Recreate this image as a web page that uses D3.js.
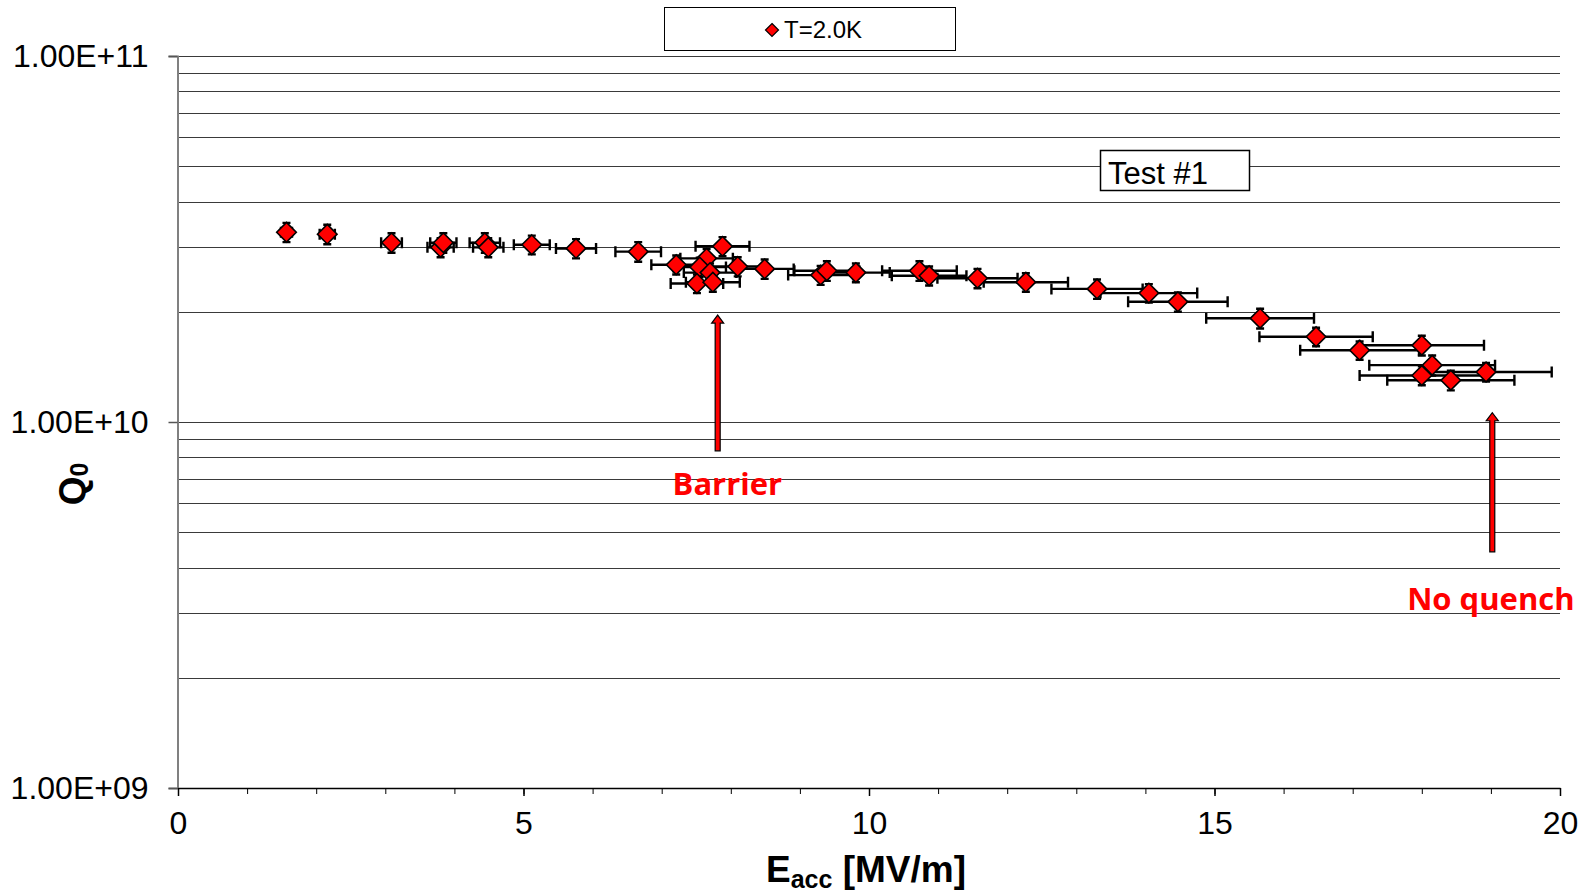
<!DOCTYPE html>
<html>
<head>
<meta charset="utf-8">
<script src="https://cdn.jsdelivr.net/npm/d3@7"></script>
<style>
  body { margin: 0; background: #fff; }
  svg { display: block; font-family: 'Liberation Sans', Arial, sans-serif; }
  .grid line { stroke: #3a3a3a; stroke-width: 1; }
  .tick text { font-size: 32px; fill: #000; }
  .err { stroke: #000; stroke-width: 2.4; fill: none; }
  .note { font-family: 'Open Sans', sans-serif; font-weight: bold; font-size: 31px; fill: #ff0000; }
</style>
</head>
<body>
<svg id="svg" width="1590" height="894"></svg>
<script>
// Eacc [MV/m]
const eacc = [1.57, 2.16, 3.09, 3.80, 3.84, 4.44, 4.49, 5.12, 5.76, 6.66,
  7.21, 7.65, 7.55, 7.70, 7.51, 7.74, 7.88, 8.10, 8.49,
  9.30, 9.39, 9.81, 10.73, 10.87, 11.57, 12.27, 13.30, 14.05, 14.47,
  15.66, 16.47, 17.10, 18.00, 18.15, 18.93, 18.00, 18.42]
// Q0
const q0 = [3.30e10, 3.26e10, 3.09e10, 3.00e10, 3.09e10, 3.09e10, 3.00e10, 3.05e10, 2.98e10, 2.92e10,
  2.69e10, 2.80e10, 2.65e10, 2.56e10, 2.39e10, 2.41e10, 3.02e10, 2.66e10, 2.62e10,
  2.52e10, 2.59e10, 2.56e10, 2.59e10, 2.51e10, 2.47e10, 2.41e10, 2.31e10, 2.25e10, 2.13e10,
  1.92e10, 1.71e10, 1.57e10, 1.62e10, 1.43e10, 1.37e10, 1.34e10, 1.30e10]
// +/- error on Eacc
const eaccErr = [0.08, 0.11, 0.15, 0.19, 0.19, 0.22, 0.22, 0.26, 0.29, 0.33,
  0.36, 0.38, 0.38, 0.38, 0.38, 0.39, 0.39, 0.40, 0.42,
  0.47, 0.47, 0.49, 0.54, 0.54, 0.58, 0.61, 0.66, 0.70, 0.72,
  0.78, 0.82, 0.86, 0.90, 0.91, 0.95, 0.90, 0.92]
// +/- error on Q0
const q0Err = [0.20e10, 0.20e10, 0.19e10, 0.18e10, 0.19e10, 0.19e10, 0.18e10, 0.18e10, 0.18e10, 0.18e10,
  0.16e10, 0.17e10, 0.16e10, 0.15e10, 0.14e10, 0.14e10, 0.18e10, 0.16e10, 0.16e10,
  0.15e10, 0.16e10, 0.15e10, 0.16e10, 0.15e10, 0.15e10, 0.14e10, 0.14e10, 0.13e10, 0.13e10,
  0.12e10, 0.10e10, 0.09e10, 0.10e10, 0.09e10, 0.08e10, 0.08e10, 0.08e10]

const xTicks = [0, 5, 10, 15, 20]
const yTicks = [1e9, 1e10, 1e11]
const seriesName = 'T=2.0K'

// annotations (arrow + red label)
const noteText = ['Barrier', 'No quench']
const noteE = [7.95, 19.0]
const noteQ = [6.3e9, 3.07e9]
const arrowE = [7.81, 19.02]
const arrowFrom = [8.34e9, 4.42e9]
const arrowTo = [1.96e10, 1.06e10]

const LEFT = 178
const RIGHT = 1560
const TOP = 56
const BOTTOM = 788
const HALF = 9.8

const svg = d3.select('svg')
const x = d3.scaleLinear().domain([0, 20]).range([LEFT, RIGHT])
const y = d3.scaleLog().domain([1e9, 1e11]).range([BOTTOM, TOP])

// horizontal grid, 1..9 per decade
svg.append('g').attr('class', 'grid')
  .selectAll('line')
  .data(y.ticks().filter(d => d > 1e9))
  .join('line')
  .attr('x1', LEFT).attr('x2', RIGHT)
  .attr('y1', d => Math.round(y(d)) + 0.5)
  .attr('y2', d => Math.round(y(d)) + 0.5)

function sci (d) {
  const [m, e] = d.toExponential(2).toUpperCase().split('E')
  const sign = e[0]
  const num = e.slice(1).padStart(2, '0')
  return m + 'E' + sign + num
}

const yAxis = svg.append('g')
  .attr('transform', 'translate(' + (LEFT - 0.5) + ',0)')
  .call(d3.axisLeft(y).tickValues(yTicks).tickFormat(sci).tickSize(9).tickPadding(20))
yAxis.select('.domain').attr('stroke', '#808080').attr('stroke-width', 2)
yAxis.selectAll('.tick line').attr('stroke', '#555').attr('stroke-width', 1.5)

// x axis: minor ticks every 1, labels every 5
const xMinor = svg.append('g')
  .attr('transform', 'translate(0,' + BOTTOM + ')')
  .call(d3.axisBottom(x).ticks(20).tickFormat('').tickSize(6).tickSizeOuter(0))
xMinor.select('.domain').attr('stroke', '#000').attr('stroke-width', 1.5)
const xMajor = svg.append('g')
  .attr('transform', 'translate(0,' + BOTTOM + ')')
  .call(d3.axisBottom(x).tickValues(xTicks).tickSize(8).tickPadding(15).tickSizeOuter(0))
xMajor.select('.domain').remove()
xMajor.selectAll('.tick line').attr('stroke-width', 1.5)

// axis titles
const xt = svg.append('text')
  .attr('x', 866).attr('y', 882)
  .attr('text-anchor', 'middle')
  .attr('font-weight', 'bold').attr('font-size', 37)
xt.append('tspan').text('E')
xt.append('tspan').attr('font-size', 25).attr('dy', 6).text('acc')
xt.append('tspan').attr('dy', -6).text(' [MV/m]')

const yt = svg.append('text')
  .attr('transform', 'translate(85,484) rotate(-90)')
  .attr('text-anchor', 'middle')
  .attr('font-weight', 'bold').attr('font-size', 37)
yt.append('tspan').text('Q')
yt.append('tspan').attr('font-size', 25).attr('dy', 3).text('0')

const pts = eacc.map((e, i) => ({ e, q: q0[i], ex: eaccErr[i], qx: q0Err[i] }))

// error bars
const eb = svg.append('g').attr('class', 'err')
pts.forEach(p => {
  const cy = y(p.q)
  const x1 = x(p.e - p.ex)
  const x2 = x(p.e + p.ex)
  eb.append('path').attr('d',
    'M' + x1 + ',' + cy + 'H' + x2 +
    'M' + x1 + ',' + (cy - 5.5) + 'V' + (cy + 5.5) +
    'M' + x2 + ',' + (cy - 5.5) + 'V' + (cy + 5.5))
  const cx = x(p.e)
  const y1 = y(p.q + p.qx)
  const y2 = y(p.q - p.qx)
  eb.append('path').attr('d',
    'M' + cx + ',' + y1 + 'V' + y2 +
    'M' + (cx - 4) + ',' + y1 + 'H' + (cx + 4) +
    'M' + (cx - 4) + ',' + y2 + 'H' + (cx + 4))
})

function diamond (h) {
  return 'M0,' + (-h) + 'L' + h + ',0L0,' + h + 'L' + (-h) + ',0Z'
}

svg.append('g')
  .selectAll('path')
  .data(pts)
  .join('path')
  .attr('transform', d => 'translate(' + x(d.e) + ',' + y(d.q) + ')')
  .attr('d', diamond(HALF))
  .attr('fill', '#ff0000')
  .attr('stroke', '#000')
  .attr('stroke-width', 1.6)

// legend
svg.append('rect')
  .attr('x', 664.5).attr('y', 7.5).attr('width', 291).attr('height', 43)
  .attr('fill', '#fff').attr('stroke', '#000').attr('stroke-width', 1)
svg.append('path')
  .attr('transform', 'translate(772,30)')
  .attr('d', diamond(6.5))
  .attr('fill', '#ff0000').attr('stroke', '#000').attr('stroke-width', 1.2)
svg.append('text')
  .attr('x', 784).attr('y', 38)
  .attr('font-size', 24)
  .text(seriesName)

// "Test #1" box
svg.append('rect')
  .attr('x', 1100.5).attr('y', 150.5).attr('width', 149).attr('height', 40)
  .attr('fill', '#fff').attr('stroke', '#000').attr('stroke-width', 1.5)
svg.append('text')
  .attr('x', 1108).attr('y', 184)
  .attr('font-size', 31)
  .text('Test #1')

// arrows
noteText.forEach((t, i) => {
  const ax = x(arrowE[i])
  const yb = y(arrowFrom[i])
  const yt2 = y(arrowTo[i])
  svg.append('path')
    .attr('d', 'M' + (ax - 2.5) + ',' + yb + 'V' + (yt2 + 8) + 'H' + (ax - 6) +
      'L' + ax + ',' + yt2 + 'L' + (ax + 6) + ',' + (yt2 + 8) + 'H' + (ax + 2.5) + 'V' + yb + 'Z')
    .attr('fill', '#ff0000').attr('stroke', '#000').attr('stroke-width', 1.2)
  svg.append('text')
    .attr('class', 'note')
    .attr('x', x(noteE[i])).attr('y', y(noteQ[i]))
    .attr('text-anchor', 'middle')
    .text(t)
})
</script>
</body>
</html>
